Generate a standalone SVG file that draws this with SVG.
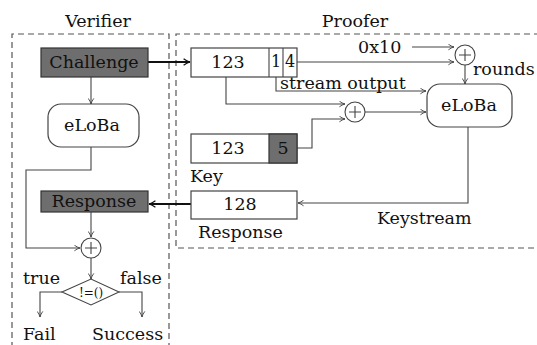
<svg xmlns="http://www.w3.org/2000/svg" width="537" height="345" viewBox="0 0 537 345">
<defs>
<style>
text{font-family:"DejaVu Serif","Liberation Serif",serif;font-size:17.5px;fill:#111}
.c{text-anchor:middle}
.box{fill:#fff;stroke:#444;stroke-width:1.2}
.dark{fill:#6e6e6e;stroke:#333;stroke-width:1.2}
.dash{fill:none;stroke:#555;stroke-width:1.2;stroke-dasharray:6 4}
.ln{fill:none;stroke:#444;stroke-width:1.1;marker-end:url(#a)}
.th{fill:none;stroke:#111;stroke-width:2;marker-end:url(#b)}
.pl{stroke:#444;stroke-width:1.1}
</style>
<marker id="a" viewBox="0 0 10 10" refX="9" refY="5" markerWidth="7" markerHeight="7" markerUnits="userSpaceOnUse" orient="auto"><path d="M1,1 Q5,4 9,5 Q5,6 1,9" fill="none" stroke="#444" stroke-width="1.3"/></marker>
<marker id="b" viewBox="0 0 10 10" refX="9" refY="5" markerWidth="8" markerHeight="8" markerUnits="userSpaceOnUse" orient="auto"><path d="M1,1 Q5,4 9,5 Q5,6 1,9" fill="none" stroke="#111" stroke-width="1.6"/></marker>
</defs>
<rect width="537" height="345" fill="#fff"/>
<g id="frames">
<path class="dash" d="M12,348 V34 H169 V348"/>
<path class="dash" d="M540,34 H176 V248 H540"/>
<text class="c" x="98" y="27">Verifier</text>
<text class="c" x="355" y="27">Proofer</text>
</g>
<g id="connectors">
<path class="ln" d="M91,77 V104"/>
<path class="ln" d="M91,147 V170 H26 V248 H80"/>
<path class="ln" d="M91,212 V237"/>
<path class="ln" d="M91,258 V279"/>
<path class="ln" d="M62,292 H40 V317"/>
<path class="ln" d="M119,292 H142 V317"/>
<path class="th" d="M148,62 H190"/>
<path class="ln" d="M412,47 H454"/>
<path class="ln" d="M297,62 H454"/>
<path class="ln" d="M465,65 V84"/>
<path class="ln" d="M276,77 V91 H426"/>
<path class="ln" d="M226,77 V104 H345"/>
<path class="ln" d="M297,148 H312 V119 H345"/>
<path class="ln" d="M365,112 H426"/>
<path class="ln" d="M468,127 V203 H298"/>
<path class="th" d="M191,204 H149"/>
</g>
<g id="challenge">
<rect class="dark" x="41" y="48" width="107" height="29"/>
<text class="c" x="94" y="68">Challenge</text>
</g>
<g id="eloba-verifier">
<rect class="box" x="48" y="104" width="91" height="43" rx="13"/>
<text class="c" x="92" y="131">eLoBa</text>
</g>
<g id="response">
<rect class="dark" x="41" y="191" width="107" height="21"/>
<text class="c" x="94" y="207">Response</text>
</g>
<g id="xor-verifier">
<circle cx="91" cy="248" r="10" fill="#fff" stroke="#444" stroke-width="1.1"/>
<path class="pl" d="M85,248 H97 M91,242 V254"/>
</g>
<g id="compare">
<polygon points="62,292 91,279 119,292 91,305" fill="#fff" stroke="#444" stroke-width="1.1"/>
<text class="c" x="91" y="297" style="font-size:12px">!=()</text>
<text x="23" y="284">true</text>
<text x="120" y="284">false</text>
<text x="23" y="340">Fail</text>
<text x="92" y="340">Success</text>
</g>
<g id="register">
<rect class="box" x="191" y="48" width="106" height="29"/>
<path class="pl" d="M269,48 V77 M283,48 V77"/>
<text class="c" x="228" y="68">123</text>
<text class="c" x="276" y="67" style="font-size:16px">1</text>
<text class="c" x="290" y="67" style="font-size:16px">4</text>
<text x="280" y="89">stream output</text>
</g>
<g id="const">
<text x="358" y="53">0x10</text>
</g>
<g id="xor-rounds">
<circle cx="465" cy="55" r="10" fill="#fff" stroke="#444" stroke-width="1.1"/>
<path class="pl" d="M459,55 H471 M465,49 V61"/>
<text x="473" y="75">rounds</text>
</g>
<g id="xor-key">
<circle cx="355" cy="112" r="10" fill="#fff" stroke="#444" stroke-width="1.1"/>
<path class="pl" d="M349,112 H361 M355,106 V118"/>
</g>
<g id="key">
<rect class="box" x="191" y="134" width="106" height="29"/>
<rect class="dark" x="269" y="134" width="28" height="29"/>
<text class="c" x="228" y="154">123</text>
<text class="c" x="283" y="154">5</text>
<text x="190" y="182">Key</text>
</g>
<g id="eloba-proofer">
<rect class="box" x="427" y="84" width="85" height="43" rx="13"/>
<text class="c" x="469" y="111">eLoBa</text>
</g>
<g id="keystream">
<text x="377" y="224">Keystream</text>
</g>
<g id="response-reg">
<rect class="box" x="191" y="191" width="106" height="28"/>
<text class="c" x="240" y="210">128</text>
<text x="198" y="238">Response</text>
</g>
</svg>
